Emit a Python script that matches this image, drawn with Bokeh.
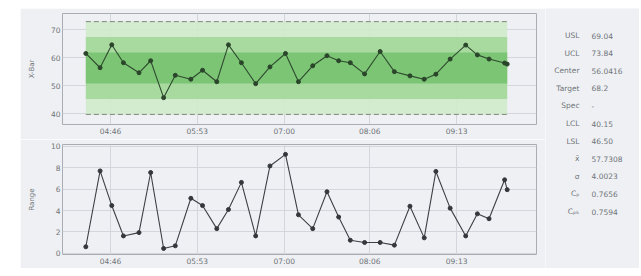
from bokeh.plotting import figure
from bokeh.layouts import row, column
from bokeh.models import Range1d, FixedTicker, Spacer
from bokeh.embed import file_html
from bokeh.resources import INLINE
from bokeh.core.properties import value

# ---------------- data ----------------
times = ["04:27", "04:38", "04:47", "04:56", "05:08", "05:17", "05:27", "05:36",
         "05:48", "05:57", "06:08", "06:17", "06:27", "06:38", "06:49", "07:01",
         "07:11", "07:22", "07:33", "07:42", "07:51", "08:02", "08:14", "08:25",
         "08:37", "08:48", "08:57", "09:08", "09:20", "09:29", "09:38", "09:50",
         "09:52"]
xbar = [61.6, 56.5, 64.7, 58.3, 54.7, 59.0, 45.8, 53.8, 52.4, 55.6, 51.5,
        64.7, 58.3, 50.8, 56.8, 61.6, 51.5, 57.2, 60.8, 59.0, 58.3, 54.3,
        62.3, 55.1, 53.6, 52.4, 54.2, 59.6, 64.6, 61.1, 59.6, 58.2, 57.8]
ranges = [0.62, 7.69, 4.46, 1.63, 1.94, 7.54, 0.46, 0.71, 5.14, 4.46, 2.31,
          4.09, 6.62, 1.63, 8.15, 9.23, 3.60, 2.31, 5.75, 3.39, 1.23, 1.02,
          1.02, 0.77, 4.40, 1.45, 7.64, 4.22, 1.63, 3.69, 3.23, 6.86, 5.94]
tick_labels = ["04:46", "05:53", "07:00", "08:06", "09:13"]
ucl = 73.0
center = 56.4
lcl = 39.8
xbar_yticks = [40, 50, 60, 70]
range_yticks = [0, 2, 4, 6, 8, 10]
stat_labels = ["USL", "UCL", "Center", "Target", "Spec", "LCL", "LSL",
               "x\u0304", "\u03c3", "C\u209a", "C\u209a\u2096"]
stat_values = ["69.04", "73.84", "56.0416", "68.2", "-", "40.15", "46.50",
               "57.7308", "4.0023", "0.7656", "0.7594"]

# ---------------- helpers ----------------
def to_min(s):
    h, m = s.split(":")
    return int(h) * 60 + int(m)

x = [to_min(t) for t in times]
ticks = [to_min(t) for t in tick_labels]
overrides = {t: lab for t, lab in zip(ticks, tick_labels)}

BG = "#eef0f4"
FONT = "DejaVu Sans"
TXT = "#707478"

def base(height, y_range, b_top, b_bottom, ylabel, yticks):
    p = figure(width=525, height=height, x_range=Range1d(249, 614.6),
               y_range=y_range, output_backend="svg", toolbar_location=None,
               min_border_left=42, min_border_right=9,
               min_border_top=b_top, min_border_bottom=b_bottom)
    p.background_fill_color = BG
    p.border_fill_color = BG
    p.outline_line_color = "#a9adb3"
    p.xaxis.ticker = FixedTicker(ticks=ticks)
    p.xaxis.major_label_overrides = overrides
    p.yaxis.ticker = FixedTicker(ticks=yticks)
    for ax in (p.xaxis, p.yaxis):
        ax.axis_line_color = None
        ax.major_tick_out = 0
        ax.major_tick_in = 0
        ax.minor_tick_out = 0
        ax.minor_tick_in = 0
        ax.major_label_text_font = FONT
        ax.major_label_text_font_size = "7.5px"
        ax.major_label_text_color = TXT
        ax.major_label_standoff = 2
    p.yaxis.axis_label = ylabel
    p.yaxis.axis_label_text_font = FONT
    p.yaxis.axis_label_text_font_size = "7px"
    p.yaxis.axis_label_text_font_style = "normal"
    p.yaxis.axis_label_text_color = TXT
    p.yaxis.axis_label_standoff = 12
    p.xgrid.ticker = FixedTicker(ticks=ticks)
    p.ygrid.ticker = FixedTicker(ticks=yticks)
    p.grid.grid_line_color = "#d3d6dc"
    p.grid.grid_line_width = 1
    return p

# ---------------- X-bar chart ----------------
top = base(131, Range1d(36.2, 75.9), 5, 15, "X-Bar", xbar_yticks)
sig = (ucl - center) / 3.0
x0, x1 = min(x), max(x)
zone_colors = ["#cfeaca", "#a3d89b", "#76c26f"]
for k, c in zip([3, 2, 1], zone_colors):
    top.quad(left=x0, right=x1, bottom=center - k * sig, top=center + k * sig,
             fill_color=c, line_color=None, fill_alpha=0.9)
top.line([x0, x1], [ucl, ucl], line_color="#7d8a7d", line_dash="5 3", line_width=1)
top.line([x0, x1], [lcl, lcl], line_color="#7d8a7d", line_dash="5 3", line_width=1)
top.line(x, xbar, line_color="#2f4a2f", line_width=1.1)
top.scatter(x, xbar, size=4, fill_color="#2b452b", line_color="#2b452b")

# ---------------- Range chart ----------------
bot = base(129, Range1d(-0.1, 10.15), 5, 13, "Range", range_yticks)
bot.line(x, ranges, line_color="#3c3f44", line_width=1.1)
bot.scatter(x, ranges, size=4, fill_color="#34373c", line_color="#34373c")

# ---------------- stats panel ----------------
stats = figure(width=94, height=260, x_range=Range1d(0, 94), y_range=Range1d(260, 0),
               output_backend="svg", toolbar_location=None, min_border=0)
stats.background_fill_color = BG
stats.border_fill_color = BG
stats.outline_line_color = None
stats.axis.visible = False
stats.grid.visible = False
ys = [27 + i * 17.6 for i in range(len(stat_labels))]
stats.text(x=[34] * len(stat_labels), y=ys, text=stat_labels,
           text_font=value(FONT), text_font_size="7.5px", text_color=TXT,
           text_align="right", text_baseline="middle")
stats.text(x=[46] * len(stat_values), y=ys, text=stat_values,
           text_font=value(FONT), text_font_size="7.5px", text_color=TXT,
           text_align="left", text_baseline="middle")

layout = column(Spacer(width=600, height=8),
                row(Spacer(width=20, height=260), column(top, bot), stats))

open("out.html", "w").write(file_html(layout, INLINE))
